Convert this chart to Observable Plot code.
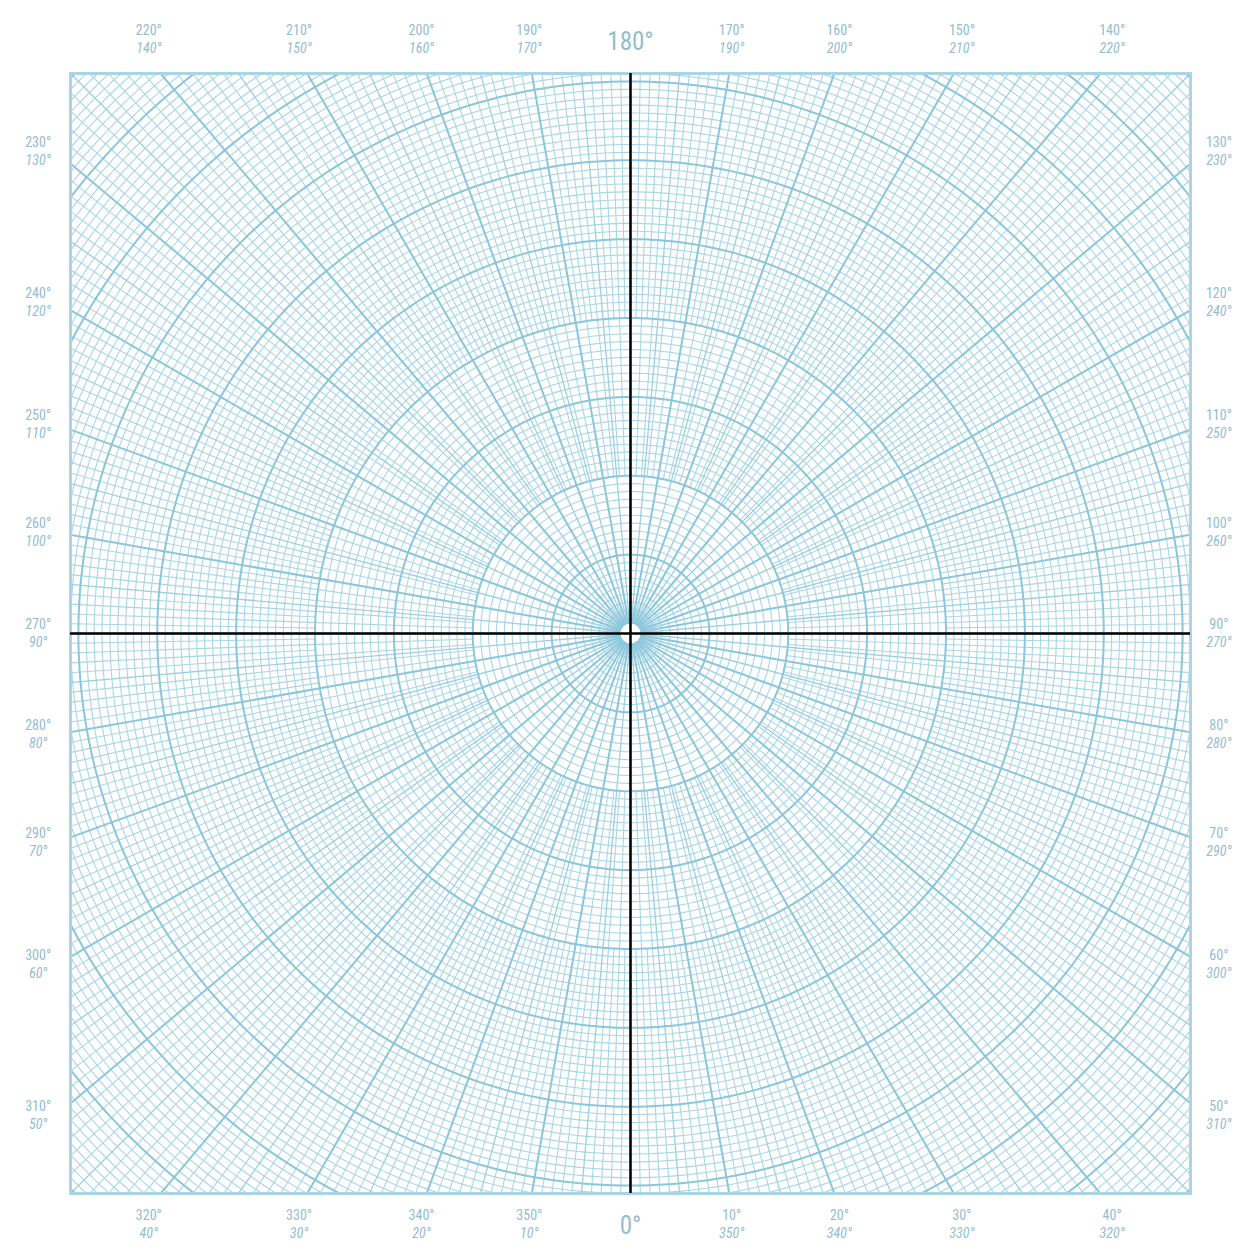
<!DOCTYPE html>
<html><head><meta charset="utf-8">
<script src="https://cdn.jsdelivr.net/npm/d3@7"></script>
<script src="https://cdn.jsdelivr.net/npm/@observablehq/plot@0.6"></script>
<style>
html,body{margin:0;padding:0;background:#fff;}
#chart svg{display:block;}
</style>
</head><body><div id="chart"></div>
<script>
// ---- grid definition (radius in ring units: 10 units per heavy ring) ----
const R = 71;                                   // half side of the square sheet
const majorRings = [10, 20, 30, 40, 50, 60, 70, 80, 90, 100];
const minorRingStep = 1;
const rayZones = [
  {name: "major", step: 10, from: 0,  to: 102},
  {name: "five",  step: 5,  from: 0,  to: 102},
  {name: "two",   step: 2,  from: 20, to: 102},
  {name: "one",   step: 1,  from: 40, to: 102}
];
// ---- labels ----
const uprightAngles = [10, 20, 30, 40, 50, 60, 70, 80, 90, 100, 110, 120, 130, 140, 150, 160, 170,
                       190, 200, 210, 220, 230, 240, 250, 260, 270, 280, 290, 300, 310, 320, 330, 340, 350];
const bigAngles = [0, 180];

// ---- helpers ----
const rad = d => d * Math.PI / 180;
const px = (r, a) => r * Math.sin(rad(a));
const py = (r, a) => -r * Math.cos(rad(a));

// rings
const minorRings = d3.range(minorRingStep, 101, minorRingStep).filter(r => r % 10 !== 0);
const circlePts = d3.range(0, 361, 1);
const ringLine = rings => rings.flatMap(r => circlePts.map(a => ({r, x: px(r, a), y: py(r, a)})));

// rays
const rayOwner = a => a % 10 === 0 ? "major" : a % 5 === 0 ? "five" : a % 2 === 0 ? "two" : "one";
const rays = rayZones.flatMap(z => d3.range(0, 360, z.step)
  .filter(a => rayOwner(a) === z.name)
  .map(a => ({a, kind: z.name, x1: px(z.from, a), y1: py(z.from, a), x2: px(z.to, a), y2: py(z.to, a)})));

// label placement at the sheet edge
function labelPos(a) {
  const dx = Math.sin(rad(a)), dy = -Math.cos(rad(a));
  const s = Math.max(Math.abs(dx), Math.abs(dy));
  let x = dx / s * R * 1.025, y = dy / s * R * 1.025;
  if (Math.abs(dy) > Math.abs(dx)) y = dy > 0 ? R + 4.3 : -R - 3.9;
  else x = dx > 0 ? R + 3.6 : -R - 4.1;
  return {x, y};
}
const labels = uprightAngles.map(a => {
  const p = labelPos(a);
  return {a, x: p.x, y: p.y, up: a + "°", it: ((360 - a) % 360) + "°"};
});
const bigs = bigAngles.map(a => {
  const p = labelPos(a);
  return {a, x: p.x, y: p.y, t: a + "°"};
});

const minorColor = "#a9d6e6";
const midColor = "#9dcfe1";
const majorColor = "#8ac6dc";
const labelColor = "#93bdd0";
const font = "'Liberation Sans Narrow', 'Roboto Condensed', 'Roboto', sans-serif";

const chart = Plot.plot({
  width: 1242, height: 1250,
  marginLeft: 70, marginRight: 52, marginTop: 73, marginBottom: 57,
  x: {domain: [-R, R], axis: null},
  y: {domain: [-R, R], axis: null},
  marks: [
    Plot.line(ringLine(minorRings), {x: "x", y: "y", z: "r", stroke: minorColor, strokeWidth: 1.1, clip: true}),
    Plot.link(rays.filter(d => d.kind === "one" || d.kind === "two"), {x1: "x1", y1: "y1", x2: "x2", y2: "y2", stroke: minorColor, strokeWidth: 1.1, clip: true}),
    Plot.link(rays.filter(d => d.kind === "five"), {x1: "x1", y1: "y1", x2: "x2", y2: "y2", stroke: midColor, strokeWidth: 1.3, clip: true}),
    Plot.line(ringLine(majorRings), {x: "x", y: "y", z: "r", stroke: majorColor, strokeWidth: 2, clip: true}),
    Plot.link(rays.filter(d => d.kind === "major"), {x1: "x1", y1: "y1", x2: "x2", y2: "y2", stroke: majorColor, strokeWidth: 2, clip: true}),
    Plot.frame({stroke: "#a9d5e5", strokeWidth: 3}),
    Plot.dot([{x: 0, y: 0}], {x: "x", y: "y", r: 10, fill: "white", stroke: "none"}),
    Plot.ruleX([0], {stroke: "black", strokeWidth: 2.5}),
    Plot.ruleY([0], {stroke: "black", strokeWidth: 2.5}),
    Plot.text(labels, {x: "x", y: "y", text: "up", dy: -9, fill: labelColor, fontSize: 14, fontFamily: font}),
    Plot.text(labels, {x: "x", y: "y", text: "it", dy: 9, fill: labelColor, fontSize: 14, fontFamily: font, fontStyle: "italic"}),
    Plot.text(bigs, {x: "x", y: "y", text: "t", dy: 2, fill: labelColor, fontSize: 25, fontFamily: font})
  ]
});
document.getElementById("chart").appendChild(chart);
</script>
</body></html>
